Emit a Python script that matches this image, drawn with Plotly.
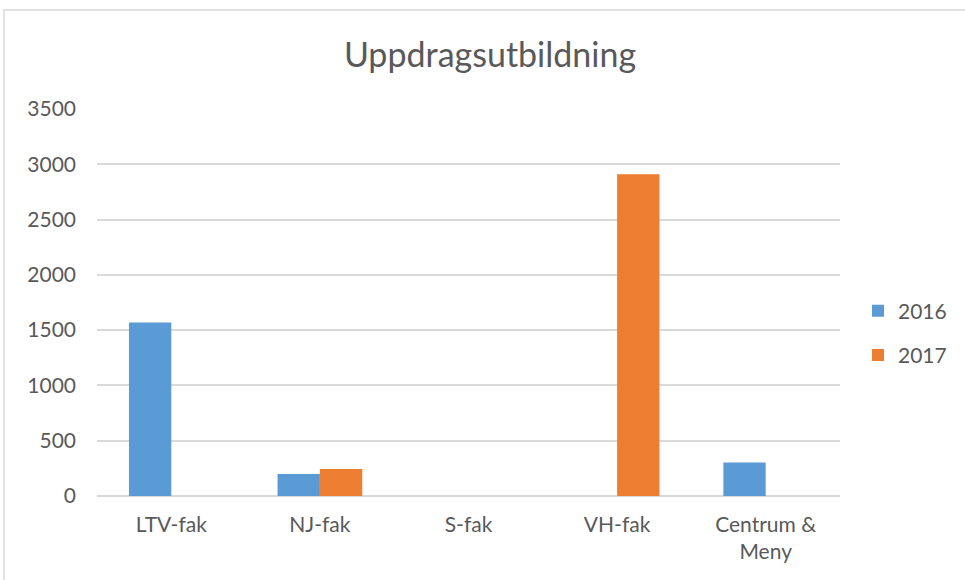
import plotly.graph_objects as go

categories = ["LTV-fak", "NJ-fak", "S-fak", "VH-fak", "Centrum &<br>Meny"]
values_2016 = [1568, 200, 0, 0, 302]
values_2017 = [0, 245, 0, 2910, 0]
y_ticks = [0, 500, 1000, 1500, 2000, 2500, 3000, 3500]

FONT = "Lato, 'Open Sans', sans-serif"
GREY = "#595959"

fig = go.Figure()
fig.add_trace(go.Bar(name="2016", x=categories, y=values_2016, legendgroup="a",
                     marker=dict(color="#5B9BD5", line=dict(width=0))))
fig.add_trace(go.Bar(name="2017", x=categories, y=values_2017, legendgroup="b",
                     marker=dict(color="#ED7D31", line=dict(width=0))))

L, R, T, B = 97, 125, 109, 84
W, H = 965, 580
pw = W - L - R
ph = H - T - B

fig.update_layout(
    width=W, height=H,
    margin=dict(l=L, r=R, t=T, b=B, autoexpand=False),
    paper_bgcolor="white", plot_bgcolor="white",
    font=dict(family=FONT, size=21, color=GREY),
    barmode="group", bargap=0.43, bargroupgap=0,
    title=dict(text="Uppdragsutbildning", font=dict(family=FONT, size=34, color=GREY),
               x=(490 - L) / pw, xref="paper", xanchor="center",
               y=1 - 55 / H, yref="container", yanchor="middle"),
    legend=dict(x=(858 - L) / pw, xanchor="left", y=(H - B - 333) / ph, yanchor="middle",
                font=dict(family=FONT, size=21, color=GREY), bgcolor="rgba(0,0,0,0)",
                tracegroupgap=14),
    showlegend=True,
    shapes=[dict(type="rect", xref="paper", yref="paper",
                 x0=(4 - L) / pw, x1=(W + 20 - L) / pw,
                 y0=(H - B - (H + 20)) / ph, y1=(H - B - 10) / ph,
                 line=dict(color="#D9D9D9", width=1.5), fillcolor="rgba(0,0,0,0)", layer="below")],
)
fig.update_xaxes(showgrid=False, showline=False, zeroline=False, ticks="",
                 tickfont=dict(family=FONT, size=21, color=GREY), ticklabelstandoff=14)
fig.update_yaxes(range=[0, 3500], tickvals=y_ticks, showgrid=True, gridcolor="#D9D9D9",
                 gridwidth=1.5, zeroline=True, zerolinecolor="#D9D9D9", zerolinewidth=1.5,
                 showline=False, ticks="", tickfont=dict(family=FONT, size=21, color=GREY),
                 ticklabelstandoff=20)

fig.write_html("out.html", config={"displayModeBar": False},
               post_script="document.body.style.margin='0';document.body.style.overflow='hidden';")
